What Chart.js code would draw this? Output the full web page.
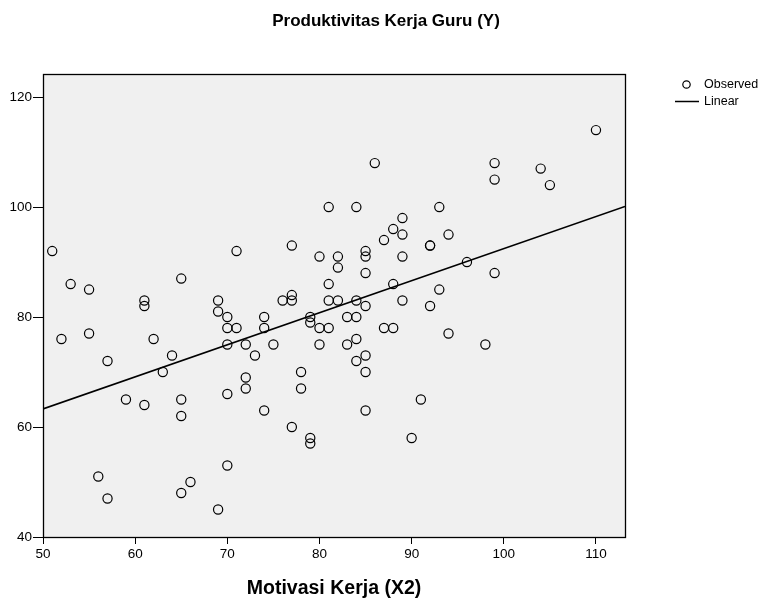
<!DOCTYPE html>
<html><head><meta charset="utf-8">
<script src="https://cdn.jsdelivr.net/npm/chart.js@4.4.0/dist/chart.umd.min.js"></script>
<style>html,body{margin:0;padding:0;background:#fff;overflow:hidden;} #wrap{width:772px;height:598px;}</style>
</head><body><div id="wrap"><canvas id="c" width="772" height="598"></canvas></div>
<script>
const chartTitle = 'Produktivitas Kerja Guru (Y)';
const xAxisTitle = 'Motivasi Kerja (X2)';
const seriesNames = ['Observed', 'Linear'];
const motivasiX2 = [51,52,53,55,55,56,57,57,59,61,61,61,62,63,64,65,65,65,65,66,69,69,69,70,70,70,70,70,71,71,72,72,72,73,74,74,74,75,76,77,77,77,77,78,78,79,79,79,79,80,80,80,81,81,81,81,82,82,82,83,83,84,84,84,84,84,85,85,85,85,85,85,85,86,87,87,88,88,88,89,89,89,89,90,91,92,92,92,93,93,94,94,96,98,99,99,99,104,105,110];
const produktivitasY = [92,76,86,85,77,51,72,47,65,83,82,64,76,70,73,87,65,62,48,50,83,81,45,80,78,75,66,53,92,78,75,69,67,73,80,78,63,75,83,93,84,83,60,70,67,80,79,58,57,91,78,75,100,86,83,78,91,89,83,80,75,100,83,80,76,72,92,91,88,82,73,70,63,108,94,78,96,86,78,98,95,91,83,58,65,93,93,82,100,85,95,77,90,75,108,105,88,107,104,114];
const fitLineX = [50, 113.15];
const fitLineY = [63.3, 100.1];
const xTicks = [50, 60, 70, 80, 90, 100, 110];
const yTicks = [40, 60, 80, 100, 120];
const xRange = [50, 113.15];
const yRange = [40, 124.2];

const FONT = "'Liberation Sans', Arial, Helvetica, sans-serif";
Chart.defaults.font.family = FONT;
Chart.defaults.color = '#000';

const bgFrame = {
  id: 'bgFrame',
  beforeDraw(chart) {
    const {ctx, chartArea: a} = chart;
    ctx.save();
    ctx.fillStyle = '#fff';
    ctx.fillRect(0, 0, chart.width, chart.height);
    ctx.fillStyle = '#f0f0f0';
    ctx.fillRect(a.left, a.top, a.right - a.left, a.bottom - a.top);
    ctx.restore();
  },
  afterDraw(chart) {
    const {ctx, chartArea: a} = chart;
    ctx.save();
    ctx.strokeStyle = '#000';
    ctx.lineWidth = 1.3;
    ctx.strokeRect(Math.round(a.left) + 0.5, Math.round(a.top) + 0.5, Math.round(a.right - a.left), Math.round(a.bottom - a.top));
    // title
    ctx.fillStyle = '#000';
    ctx.font = 'bold 17px ' + FONT;
    ctx.textAlign = 'center';
    ctx.textBaseline = 'alphabetic';
    ctx.fillText(chartTitle, 386, 26);
    // legend
    const ds = chart.data.datasets;
    ctx.font = '12.5px ' + FONT;
    ctx.textBaseline = 'middle';
    ctx.textAlign = 'left';
    ctx.lineWidth = 1.2;
    ctx.beginPath();
    ctx.arc(686.5, 84.5, 3.7, 0, Math.PI * 2);
    ctx.stroke();
    ctx.fillText(ds[0].label, 704, 85);
    ctx.lineWidth = 1.5;
    ctx.beginPath();
    ctx.moveTo(675, 101.5);
    ctx.lineTo(699, 101.5);
    ctx.stroke();
    ctx.fillText(ds[1].label, 704, 102);
    ctx.restore();
  }
};

new Chart(document.getElementById('c'), {
  type: 'scatter',
  data: {
    datasets: [
      {
        label: seriesNames[0],
        data: motivasiX2.map((x, i) => ({x: x, y: produktivitasY[i]})),
        pointStyle: 'circle',
        pointRadius: 4.6,
        pointBorderWidth: 1.2,
        borderColor: '#000',
        backgroundColor: 'rgba(0,0,0,0)',
        pointBackgroundColor: 'rgba(0,0,0,0)',
        pointBorderColor: '#000',
        order: 2
      },
      {
        label: seriesNames[1],
        data: fitLineX.map((x, i) => ({x: x, y: fitLineY[i]})),
        showLine: true,
        pointRadius: 0,
        borderColor: '#000',
        borderWidth: 1.6,
        backgroundColor: 'rgba(0,0,0,0)',
        order: 1
      }
    ]
  },
  options: {
    responsive: false,
    animation: false,
    devicePixelRatio: 1,
    events: [],
    layout: {padding: {left: 0, right: 147, top: 74, bottom: 0}},
    plugins: {
      legend: {display: false},
      tooltip: {enabled: false},
      title: {display: false}
    },
    scales: {
      x: {
        type: 'linear',
        min: xRange[0], max: xRange[1],
        afterBuildTicks: s => { s.ticks = xTicks.map(v => ({value: v})); },
        afterFit: s => { s.height = 61; },
        ticks: {color: '#000', font: {size: 13.5}, padding: 2, maxRotation: 0, autoSkip: false},
        grid: {drawOnChartArea: false, drawTicks: true, tickLength: 7, color: '#000', lineWidth: 1},
        border: {display: false},
        title: {display: true, text: xAxisTitle, color: '#000', font: {family: FONT, size: 19.5, weight: 'bold', lineHeight: 1.0}, padding: {top: 0, bottom: 0}}
      },
      y: {
        type: 'linear',
        min: yRange[0], max: yRange[1],
        afterBuildTicks: s => { s.ticks = yTicks.map(v => ({value: v})); },
        afterFit: s => { s.width = 43; },
        ticks: {color: '#000', font: {size: 13.5}, padding: 1, autoSkip: false},
        grid: {drawOnChartArea: false, drawTicks: true, tickLength: 10, color: '#000', lineWidth: 1},
        border: {display: false}
      }
    }
  },
  plugins: [bgFrame]
});
</script>
</body></html>
